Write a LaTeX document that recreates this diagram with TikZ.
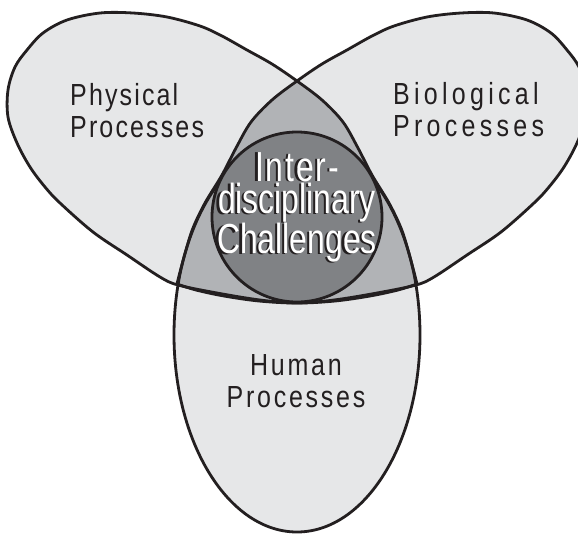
\documentclass[tikz,border=0pt]{standalone}
\usepackage{fontspec}
\newfontfamily\physfont[FakeStretch=0.82,LetterSpace=7]{Liberation Sans}
\newfontfamily\biofont[FakeStretch=0.82,LetterSpace=14]{Liberation Sans}
\newfontfamily\humfont[FakeStretch=0.82,LetterSpace=9]{Liberation Sans}
\newfontfamily\corefont[FakeStretch=0.76]{Liberation Sans}
\newfontfamily\corewidefont[FakeStretch=0.76,LetterSpace=4.5]{Liberation Sans}

\definecolor{lobefill}{RGB}{230,231,232}
\definecolor{overlapfill}{RGB}{177,179,182}
\definecolor{corefill}{RGB}{128,130,133}
\definecolor{ink}{RGB}{35,31,32}

% outline of the "Physical Processes" lobe; the biological lobe is its mirror image
\def\physpath{plot[smooth, tension=0.55] coordinates {
  (417,284) (414,272) (408,250) (401,228) (389,203) (372,175) (358,148)
  (343,122) (322,100) (297,81) (272,64) (247,50) (222,36) (200,26)
  (167,17) (133,13) (100,13) (67,20) (43,33) (27,50) (15,67) (8,90)
  (8,117) (17,143) (30,167) (45,187) (60,203) (93,232) (127,255)
  (160,277) (178,285) (217,293) (260,300) (297,303) (335,301)
  (370,296) (398,290) (417,284)} -- cycle}
\def\biopath{plot[smooth, tension=0.55] coordinates {
  (177,284) (180,272) (186,250) (193,228) (205,203) (222,175) (236,148)
  (251,122) (272,100) (297,81) (322,64) (347,50) (372,36) (394,26)
  (427,17) (461,13) (494,13) (527,20) (551,33) (567,50) (579,67) (586,90)
  (586,117) (577,143) (564,167) (549,187) (534,203) (501,232) (467,255)
  (434,277) (416,285) (377,293) (334,300) (297,303) (259,301)
  (224,296) (196,290) (177,284)} -- cycle}
\def\humpath{(297,335) ellipse [x radius=123, y radius=197]}
\def\coretext{{\corewidefont Inter-}\\disciplinary\\Challenges}

\begin{document}
\begin{tikzpicture}[x=1pt, y=-1pt,
    outline/.style={draw=ink, line width=2.8pt, line join=round},
    sidelabel/.style={inner sep=0pt, text=ink},
    corelabel/.style={inner sep=0pt, anchor=north, align=center,
      font=\corefont\fontsize{42}{32.5}\selectfont}]
  \useasboundingbox (0,0) rectangle (578,533);
  \fill[white] (0,0) rectangle (578,533);

  % single regions
  \fill[lobefill] \physpath;
  \fill[lobefill] \biopath;
  \fill[lobefill] \humpath;

  % every region covered by two or more lobes
  \begin{scope}
    \clip \physpath;
    \fill[overlapfill] \biopath;
    \fill[overlapfill] \humpath;
  \end{scope}
  \begin{scope}
    \clip \biopath;
    \fill[overlapfill] \humpath;
  \end{scope}

  \path[outline] \physpath;
  \path[outline] \biopath;
  \path[outline] \humpath;

  % central circle
  \path[outline, fill=corefill] (297,217) circle [radius=85];

  \node[sidelabel, anchor=north west, align=left,
        font=\physfont\fontsize{30.5}{32}\selectfont] (physical) at (70,83)
        {Physical\\Processes};
  \node[sidelabel, anchor=north west, align=left,
        font=\biofont\fontsize{30.5}{32}\selectfont] (biological) at (393,82)
        {Biological\\Processes};
  \node[sidelabel, anchor=north, align=center,
        font=\humfont\fontsize{30.5}{32}\selectfont] (human) at (296,354)
        {Human\\Processes};

  % white lettering with a dark drop shadow
  \node[corelabel, text=ink] (coreshade) at (294.8,152.8) {\coretext};
  \node[corelabel, text=white] (core) at (297,152) {\coretext};
\end{tikzpicture}
\end{document}
